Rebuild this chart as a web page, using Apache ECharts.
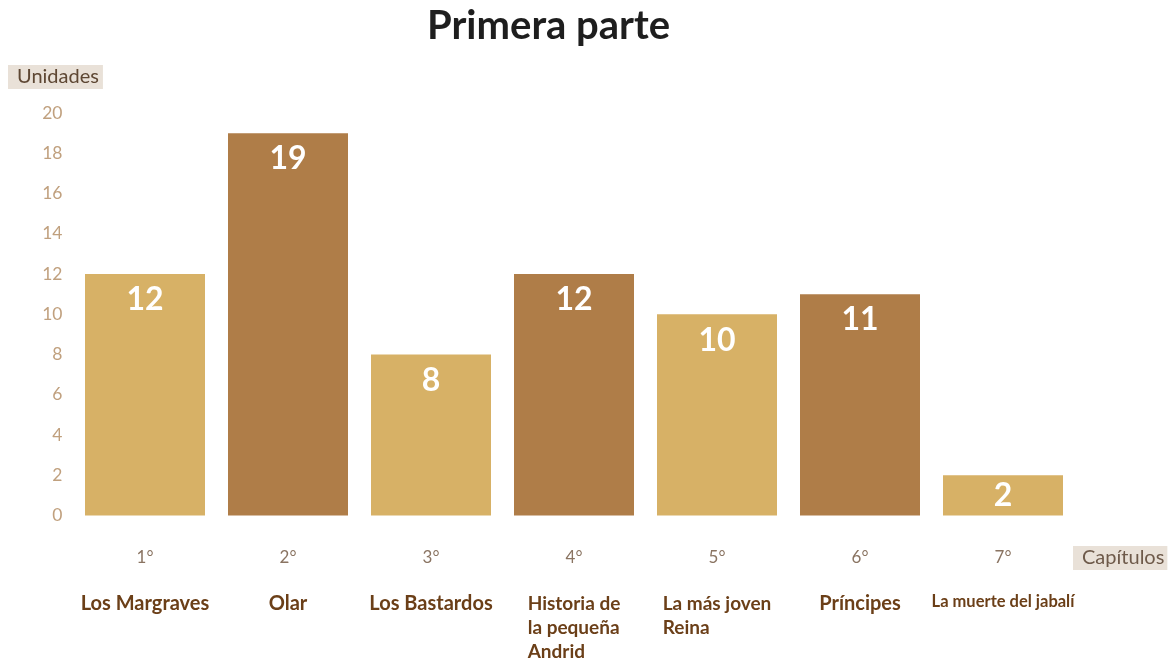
<!DOCTYPE html>
<html>
<head>
<meta charset="utf-8">
<script src="https://cdn.jsdelivr.net/npm/echarts@6/dist/echarts.min.js"></script>
<style>
  html, body { margin: 0; padding: 0; background: #ffffff; }
  #chart { width: 1169px; height: 661px; }
</style>
</head>
<body>
<div id="chart"></div>
<script>
// Chapters of the first part and how many units each one holds
const chapterNumbers = ['1°', '2°', '3°', '4°', '5°', '6°', '7°'];
const chapterNames = [
  'Los Margraves',
  'Olar',
  'Los Bastardos',
  'Historia de\nla pequeña\nAndrid',
  'La más joven\nReina',
  'Príncipes',
  'La muerte del jabalí'
];
const units = [12, 19, 8, 12, 10, 11, 2];
const yTicks = [0, 2, 4, 6, 8, 10, 12, 14, 16, 18, 20];

const FONT = 'Lato, "Open Sans", sans-serif';
const LIGHT = '#D7B166';
const DARK = '#AF7D48';

const chart = echarts.init(document.getElementById('chart'), null, { renderer: 'canvas' });

const barData = units.map((v, i) => {
  const item = {
    value: v,
    itemStyle: { color: i % 2 === 0 ? LIGHT : DARK }
  };
  if (v < 4) {
    item.label = { position: 'inside' };
  }
  return item;
});

chart.setOption({
  animation: false,
  backgroundColor: '#ffffff',
  title: [
    {
      text: 'Primera parte',
      left: 422,
      top: 1,
      textStyle: { fontFamily: FONT, fontSize: 40, fontWeight: 'bold', color: '#1e1e1e' }
    },
    {
      text: 'Unidades',
      left: 8,
      top: 65,
      padding: [1, 4, 2, 9],
      backgroundColor: '#E9E1D8',
      textStyle: { fontFamily: FONT, fontSize: 20, fontWeight: 'normal', color: '#5E4733', lineHeight: 21 }
    },
    {
      text: 'Capítulos',
      left: 1073,
      top: 546,
      padding: [1, 3, 2, 9],
      backgroundColor: '#E9E1D8',
      textStyle: { fontFamily: FONT, fontSize: 20, fontWeight: 'normal', color: '#6E5A4A', lineHeight: 21 }
    }
  ],
  grid: { left: 73.5, right: 94.5, top: 113, bottom: 143, containLabel: false },
  xAxis: {
    type: 'category',
    data: chapterNumbers,
    axisLine: { show: false },
    axisTick: { show: false },
    axisLabel: {
      interval: 0,
      margin: 8,
      formatter: function (value, idx) {
        const name = chapterNames[idx];
        const lines = name.split('\n');
        let key = 'b';
        if (lines.length > 1) key = 'm';
        else if (name.length > 16) key = 's';
        return '{n|' + value + '}\n' + lines.map(l => '{' + key + '|' + l + '}').join('\n');
      },
      rich: {
        n: { fontFamily: FONT, fontSize: 17, color: '#8A7462', lineHeight: 68 },
        b: { fontFamily: FONT, fontSize: 20, fontWeight: 'bold', color: '#6B3F18', lineHeight: 24 },
        m: { fontFamily: FONT, fontSize: 19, fontWeight: 'bold', color: '#6B3F18', lineHeight: 24, align: 'left' },
        s: { fontFamily: FONT, fontSize: 16.5, fontWeight: 'bold', color: '#6B3F18', lineHeight: 20 }
      }
    }
  },
  yAxis: {
    type: 'value',
    min: yTicks[0],
    max: yTicks[yTicks.length - 1],
    interval: yTicks[1] - yTicks[0],
    axisLine: { show: false },
    axisTick: { show: false },
    splitLine: { show: false },
    axisLabel: {
      margin: 11,
      fontFamily: FONT,
      fontSize: 17.5,
      color: '#C0A07E'
    }
  },
  series: [
    {
      type: 'bar',
      data: barData,
      barWidth: 120,
      label: {
        show: true,
        position: 'insideTop',
        distance: 10,
        fontFamily: FONT,
        fontSize: 32,
        fontWeight: 'bold',
        color: '#ffffff'
      }
    }
  ]
});
</script>
</body>
</html>
